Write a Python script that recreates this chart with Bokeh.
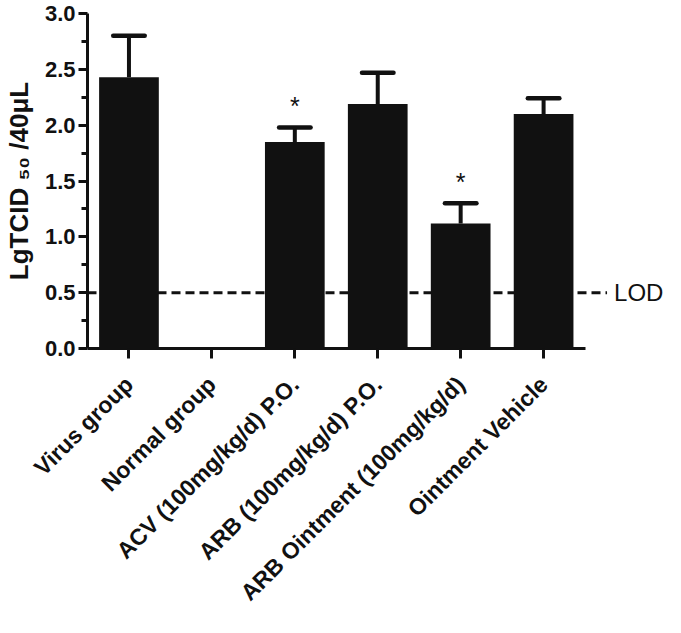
import math
from bokeh.plotting import figure
from bokeh.models import Range1d, FixedTicker, PrintfTickFormatter
from bokeh.embed import file_html
from bokeh.resources import INLINE
from bokeh.core.properties import value

# ---- data ----
groups = ["Virus group", "Normal group", "ACV (100mg/kg/d) P.O.",
          "ARB (100mg/kg/d) P.O.", "ARB Ointment (100mg/kg/d)", "Ointment Vehicle"]
means = [2.43, 0.0, 1.85, 2.19, 1.12, 2.10]
upper = [2.80, 0.0, 1.98, 2.47, 1.30, 2.24]
significant = [False, False, True, False, True, False]
lod = 0.5
y_ticks = [0.0, 0.5, 1.0, 1.5, 2.0, 2.5, 3.0]
y_title = "LgTCID \u2085\u2080 /40\u03bcL"

FONT = "Liberation Sans"
INK = "#111111"

n = len(groups)
xs = [i + 0.5 for i in range(n)]
has_bar = [m > 0 for m in means]
bx = [x for x, h in zip(xs, has_bar) if h]
bm = [m for m, h in zip(means, has_bar) if h]
bu = [u for u, h in zip(upper, has_bar) if h]

px_per_cat = 83.0
px_per_unit = 112.0

p = figure(width=665, height=617, title=None,
           x_range=Range1d(0, 6.97), y_range=Range1d(0, 3.0),
           output_backend="svg", toolbar_location=None,
           min_border_left=86, min_border_right=0,
           min_border_top=13, min_border_bottom=268)
p.grid.visible = False
p.outline_line_color = None
p.background_fill_color = "white"
p.border_fill_color = "white"

# LOD dashed line (behind bars)
lod_end = n + 22 / px_per_cat
p.line(x=[0, lod_end], y=[lod, lod], line_color=INK, line_width=3, line_dash="9 5")
p.text(x=[lod_end + 7 / px_per_cat], y=[lod], text=["LOD"], text_align="left",
       text_baseline="middle", text_font=value(FONT), text_font_size="24px",
       text_color=INK)

# bars
p.vbar(x=bx, top=bm, bottom=0, width=0.72, fill_color=INK, line_color=None)

# error bars
p.segment(x0=bx, y0=bm, x1=bx, y1=bu, line_color=INK, line_width=4)
cap = 0.19
p.segment(x0=[x - cap for x in bx], y0=bu, x1=[x + cap for x in bx], y1=bu,
          line_color=INK, line_width=4.5, line_cap="round")

# significance stars
sx = [x for x, s in zip(xs, significant) if s]
sy = [u + 21 / px_per_unit for u, s in zip(upper, significant) if s]
p.text(x=sx, y=sy, text=["*"] * len(sx), text_align="center", text_baseline="middle",
       text_font=value(FONT), text_font_size="25px", text_color=INK)

# x axis with rotated category labels
xa = p.xaxis[0]
xa.ticker = FixedTicker(ticks=xs)
xa.major_label_overrides = {x: g for x, g in zip(xs, groups)}
xa.major_label_orientation = math.pi / 4
xa.major_label_standoff = 22
xa.major_label_text_font = FONT
xa.major_label_text_font_style = "bold"
xa.major_label_text_font_size = "23px"
xa.major_label_text_color = INK
xa.bounds = (0, n)
xa.axis_line_width = 3
xa.axis_line_color = INK
xa.major_tick_line_width = 3
xa.major_tick_line_color = INK
xa.major_tick_in = 0
xa.major_tick_out = 10
xa.minor_tick_line_color = None

# y axis
ya = p.yaxis[0]
minor = [(a + b) / 2 for a, b in zip(y_ticks[:-1], y_ticks[1:])]
ya.ticker = FixedTicker(ticks=y_ticks, minor_ticks=minor)
ya.formatter = PrintfTickFormatter(format="%.1f")
ya.bounds = (0, 3.0)
ya.axis_line_width = 3
ya.axis_line_color = INK
ya.major_tick_line_width = 3
ya.major_tick_line_color = INK
ya.major_tick_in = 0
ya.major_tick_out = 9
ya.minor_tick_line_width = 3
ya.minor_tick_line_color = INK
ya.minor_tick_in = 0
ya.minor_tick_out = 6
ya.major_label_standoff = 3
ya.major_label_text_font = FONT
ya.major_label_text_font_style = "bold"
ya.major_label_text_font_size = "22px"
ya.major_label_text_color = INK
ya.axis_label = y_title
ya.axis_label_standoff = 8
ya.axis_label_text_font = FONT
ya.axis_label_text_font_style = "bold"
ya.axis_label_text_font_size = "26px"
ya.axis_label_text_color = INK

open("out.html", "w").write(file_html(p, INLINE))
